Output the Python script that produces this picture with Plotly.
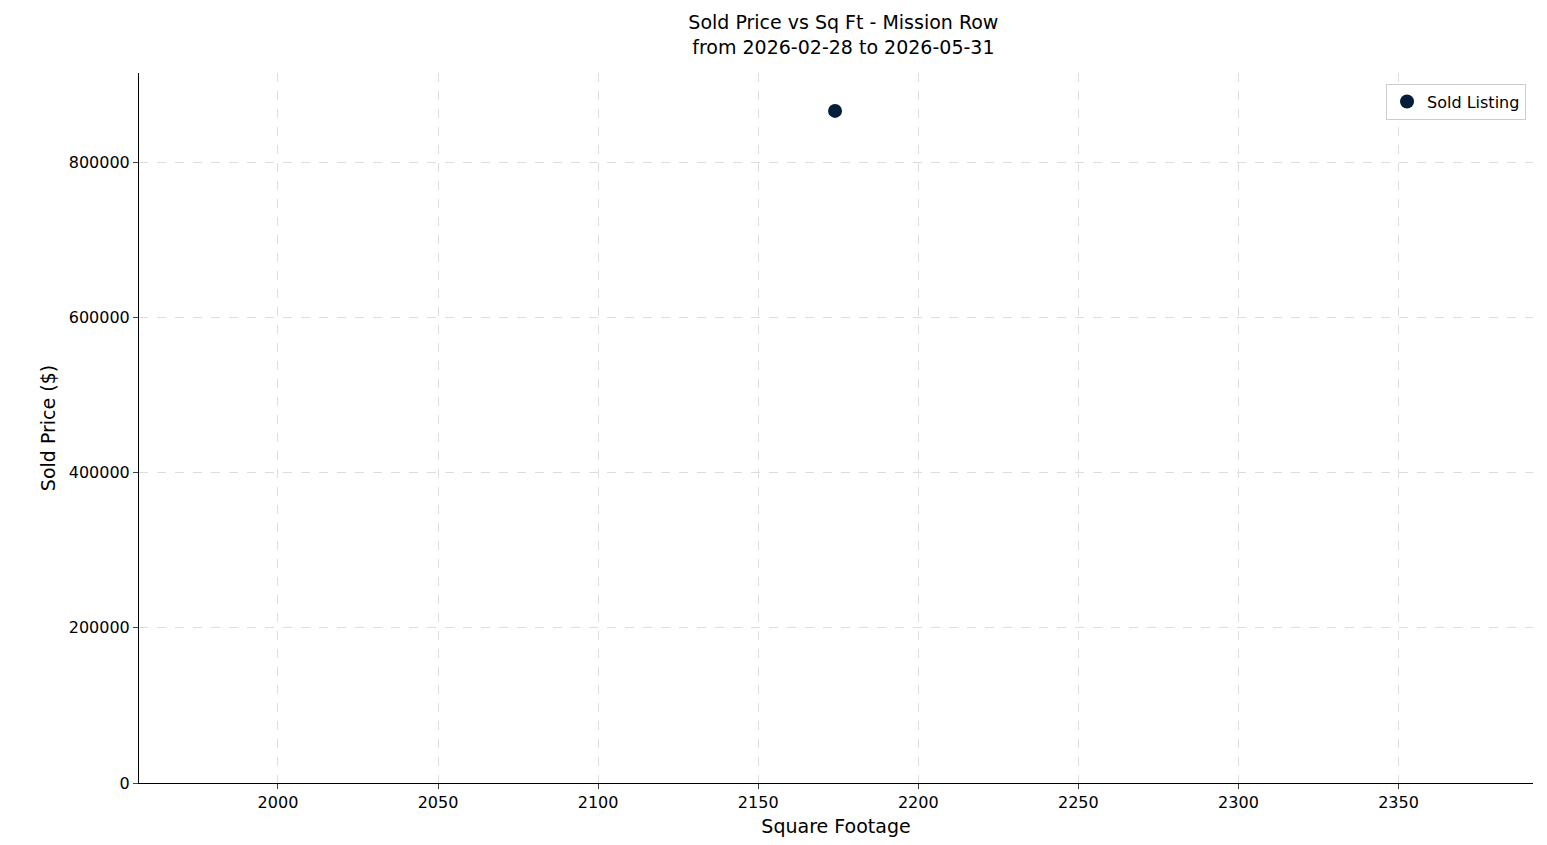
import plotly.graph_objects as go

sqft = [2174]
price = [865900]
xticks = [2000, 2050, 2100, 2150, 2200, 2250, 2300, 2350]
yticks = [0, 200000, 400000, 600000, 800000]

fig = go.Figure()
fig.add_trace(go.Scatter(x=sqft, y=price, mode="markers", name="Sold Listing",
                         marker=dict(color="#041e3a", size=14)))
fig.update_layout(
    width=1547, height=845,
    margin=dict(l=131, r=22, t=65, b=70),
    plot_bgcolor="white", paper_bgcolor="white",
    font=dict(family="DejaVu Sans", size=16, color="black"),
    title=dict(text="Sold Price vs Sq Ft - Mission Row<br>from 2026-02-28 to 2026-05-31",
               x=0.54, xanchor="center", y=0.975, yanchor="top", font=dict(size=19)),
    showlegend=True,
    legend=dict(x=0.995, y=0.985, xanchor="right", yanchor="top",
                bordercolor="#cccccc", borderwidth=1, font=dict(size=16)),
)
grid = dict(showgrid=True, gridcolor="#dddddd", griddash="dash", gridwidth=1,
            showline=True, linecolor="black", ticks="outside", ticklen=5, zeroline=False,
            tickfont=dict(size=16))
fig.update_xaxes(range=[1956.6, 2392], tickvals=xticks, title_text="Square Footage",
                 title_standoff=8, **grid)
fig.update_yaxes(range=[0, 914700], tickvals=yticks, tickformat="d",
                 title_text="Sold Price ($)", title_standoff=8, **grid)
fig.write_html("out.html")
